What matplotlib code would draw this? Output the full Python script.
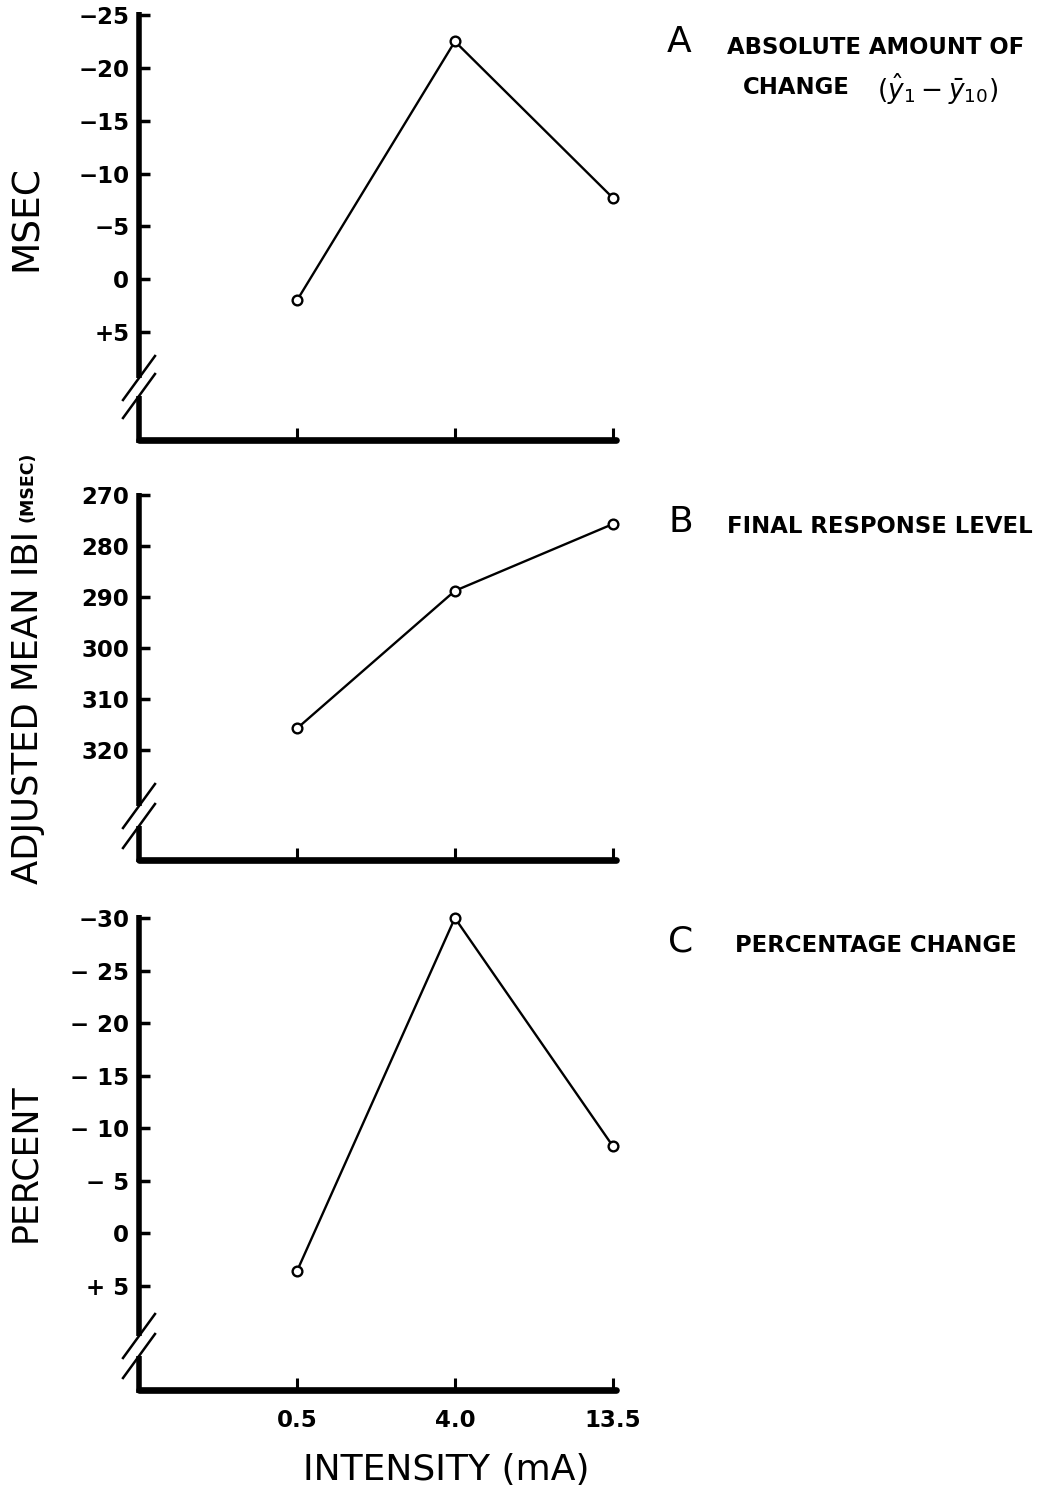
import matplotlib
matplotlib.use("Agg")
import matplotlib.pyplot as plt

# ---- data ----
intensity = ["0.5", "4.0", "13.5"]
abs_change = [2.0, -22.5, -7.7]          # msec (y1hat - y10bar)
final_level = [315.8, 288.8, 275.7]      # adjusted mean IBI (msec)
pct_change = [3.6, -30.0, -8.3]          # percent

a_ticks = [-25, -20, -15, -10, -5, 0, 5]
a_labels = ["−25", "−20", "−15", "−10", "−5", "0", "+5"]
b_ticks = [270, 280, 290, 300, 310, 320]
b_labels = ["270", "280", "290", "300", "310", "320"]
c_ticks = [-30, -25, -20, -15, -10, -5, 0, 5]
c_labels = ["−30", "− 25", "− 20", "− 15", "− 10", "− 5", "0", "+ 5"]

W, H = 1039, 1505
fig = plt.figure(figsize=(W / 100, H / 100), dpi=100)
plt.rcParams['font.family'] = ['DejaVu Sans']

def px_axes(top, bottom, left=139, right=616):
    return fig.add_axes([left / W, 1 - bottom / H, (right - left) / W, (bottom - top) / H])

panels = [
    dict(top=15, bottom=440, ylim=(15.2, -25), data=abs_change, ticks=a_ticks, labels=a_labels,
         brk=(378, 396)),
    dict(top=495, bottom=860, ylim=(341.6, 270), data=final_level, ticks=b_ticks, labels=b_labels,
         brk=(806, 826)),
    dict(top=918, bottom=1390, ylim=(14.9, -30), data=pct_change, ticks=c_ticks, labels=c_labels,
         brk=(1336, 1356)),
]

xs = list(range(len(intensity)))
for i, p in enumerate(panels):
    ax = px_axes(p["top"], p["bottom"])
    hpx = p["bottom"] - p["top"]
    wpx = 616 - 139
    ax.set_xlim(-1, 2.02)
    ax.set_ylim(*p["ylim"])
    ax.plot(xs, p["data"], color="black", lw=1.7, marker="o", ms=7,
            mfc="white", mec="black", mew=1.7, zorder=5, clip_on=False)
    for s in ["top", "right", "left"]:
        ax.spines[s].set_visible(False)
    ax.spines["bottom"].set_linewidth(4.8)
    ax.spines["bottom"].set_capstyle("round")
    b_up = (p["bottom"] - p["brk"][0]) / hpx
    b_lo = (p["bottom"] - p["brk"][1]) / hpx
    ax.plot([0, 0], [b_up, 1.006], transform=ax.transAxes, color="black", lw=4.0,
            clip_on=False, solid_capstyle="butt")
    ax.plot([0, 0], [-0.006, b_lo], transform=ax.transAxes, color="black", lw=4.0,
            clip_on=False, solid_capstyle="butt")
    for yb in p["brk"]:
        yc = (p["bottom"] - yb) / hpx
        dx, dy = 16 / wpx, 22 / hpx
        ax.plot([-dx, dx], [yc - dy, yc + dy], transform=ax.transAxes, color="black",
                lw=1.8, clip_on=False)
    ax.set_yticks(p["ticks"])
    ax.set_yticklabels(p["labels"], fontsize=16.5, fontweight="bold")
    ax.tick_params(axis="y", direction="in", length=8, width=2.5, pad=7)
    ax.set_xticks(xs)
    ax.tick_params(axis="x", direction="in", length=9, width=2.2, pad=14)
    if i == 2:
        ax.set_xticklabels(intensity, fontsize=16.5, fontweight="bold")
    else:
        ax.set_xticklabels([])

# y labels
fig.text(27 / W, 1 - 218 / H, "MSEC", rotation=90, ha="center", va="center", fontsize=27)
fig.text(28 / W, 1 - 707 / H, "ADJUSTED MEAN IBI", rotation=90, ha="center", va="center",
         fontsize=25.5)
fig.text(28 / W, 1 - 487 / H, "(MSEC)", rotation=90, ha="center", va="center", fontsize=12.5,
         fontweight="bold")
fig.text(25 / W, 1 - 1163 / H, "PERCENT", rotation=90, ha="center", va="center", fontsize=25)

# x label
fig.text(446 / W, 1 - 1470 / H, "INTENSITY (mA)", ha="center", va="center", fontsize=26)

# panel titles
fig.text(667 / W, 1 - 42 / H, "A", ha="left", va="center", fontsize=26)
fig.text(727 / W, 1 - 48 / H, "ABSOLUTE AMOUNT OF", ha="left", va="center", fontsize=16.4,
         fontweight="bold")
fig.text(743 / W, 1 - 87 / H, "CHANGE", ha="left", va="center", fontsize=16.4,
         fontweight="bold")
fig.text(877 / W, 1 - 89 / H, r"$(\hat{y}_1 - \bar{y}_{10})$", ha="left", va="center",
         fontsize=19)
fig.text(668 / W, 1 - 522 / H, "B", ha="left", va="center", fontsize=26)
fig.text(727 / W, 1 - 527 / H, "FINAL RESPONSE LEVEL", ha="left", va="center", fontsize=16.4,
         fontweight="bold")
fig.text(668 / W, 1 - 942 / H, "C", ha="left", va="center", fontsize=26)
fig.text(735 / W, 1 - 945 / H, "PERCENTAGE CHANGE", ha="left", va="center", fontsize=16.4,
         fontweight="bold")

fig.savefig("out.png", dpi=100)
